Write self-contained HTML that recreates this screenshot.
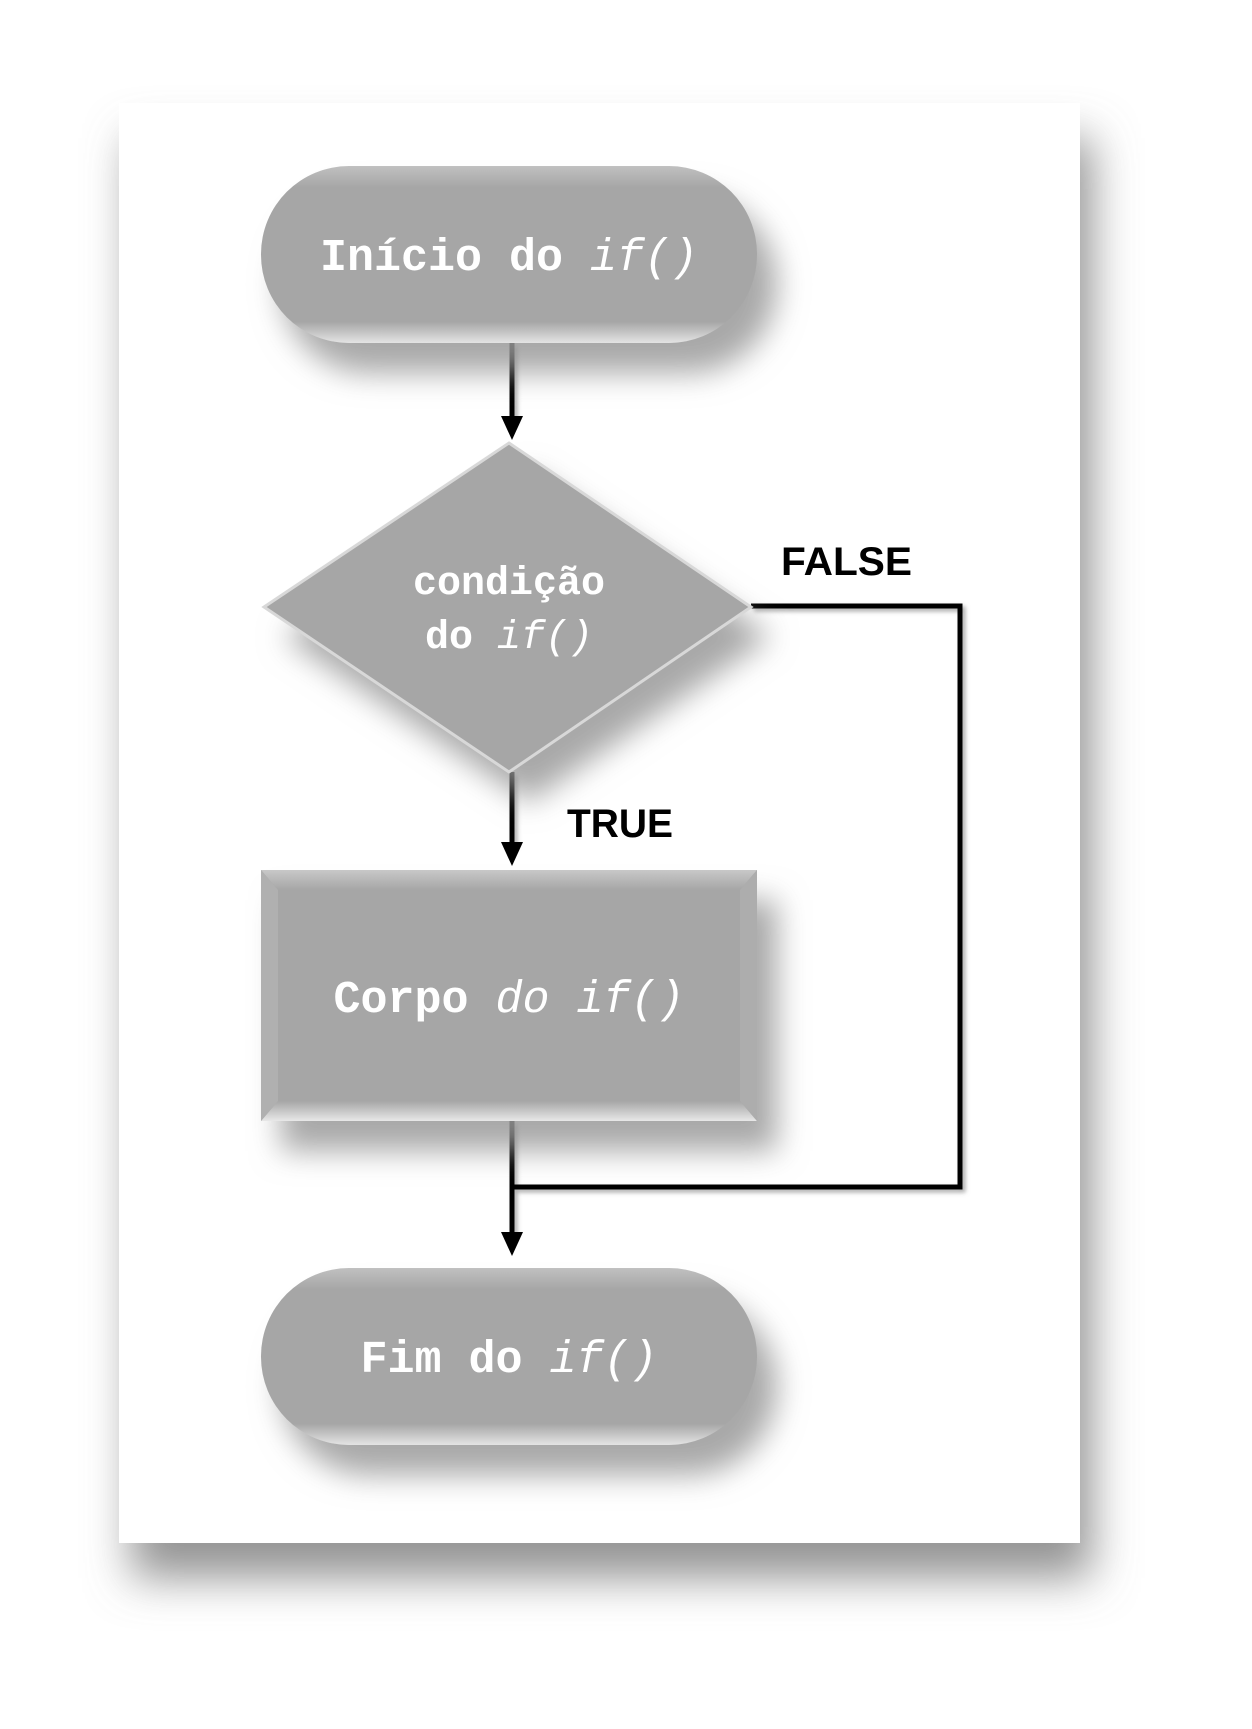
<!DOCTYPE html>
<html><head><meta charset="utf-8"><style>
html,body{margin:0;padding:0;background:#fff;}
svg{display:block;}
.t{font-family:"Liberation Mono",monospace;font-weight:bold;fill:#fff;}
.l{font-family:"Liberation Sans",sans-serif;font-weight:bold;fill:#000;}
</style></head><body>
<svg width="1252" height="1729" viewBox="0 0 1252 1729" xmlns="http://www.w3.org/2000/svg">
<defs>
<filter id="cs" x="-20%" y="-20%" width="140%" height="140%">
<feDropShadow dx="12" dy="35" stdDeviation="22" flood-color="#888" flood-opacity="0.9"/>
</filter>
<filter id="ss" x="-20%" y="-20%" width="150%" height="160%">
<feDropShadow dx="20" dy="30" stdDeviation="15" flood-color="#999" flood-opacity="0.85"/>
</filter>
<filter id="ls" x="-20%" y="-20%" width="150%" height="160%">
<feDropShadow dx="3" dy="3" stdDeviation="2" flood-color="#777" flood-opacity="0.6"/>
</filter>
<linearGradient id="edge" x1="0" y1="0" x2="0" y2="1">
<stop offset="0" stop-color="#c0c0c0"/><stop offset="0.12" stop-color="#a6a6a6"/>
<stop offset="0.88" stop-color="#a6a6a6"/><stop offset="1" stop-color="#e4e4e4"/>
</linearGradient>
<linearGradient id="tb" x1="0" y1="0" x2="0" y2="1">
<stop offset="0" stop-color="#c8c8c8"/><stop offset="1" stop-color="#a6a6a6"/>
</linearGradient>
<linearGradient id="bb" x1="0" y1="0" x2="0" y2="1">
<stop offset="0" stop-color="#a6a6a6"/><stop offset="1" stop-color="#e8e8e8"/>
</linearGradient>
</defs>
<rect x="119" y="103" width="961" height="1440" fill="#fff" filter="url(#cs)"/>

<g filter="url(#ls)" stroke="#000" stroke-width="5" fill="none">
<line x1="512" y1="343" x2="512" y2="420"/>
<line x1="512" y1="772" x2="512" y2="845"/>
<line x1="512" y1="1121" x2="512" y2="1235"/>
<polyline points="751,606 960,606 960,1187 512,1187"/>
</g>
<g fill="#000">
<polygon points="501,416 523,416 512,440"/>
<polygon points="501,842 523,842 512,866"/>
<polygon points="501,1232 523,1232 512,1256"/>
</g>

<rect x="261" y="166" width="496" height="177" rx="88" fill="url(#edge)" filter="url(#ss)"/>
<text class="t" x="509" y="270" font-size="45" text-anchor="middle">Início do <tspan font-style="italic" font-weight="normal">if()</tspan></text>

<polygon points="509,443 751,607 509,772 264,607" fill="#a6a6a6" filter="url(#ss)"/>
<polygon points="509,443 751,607 509,772 264,607" fill="none" stroke="#d8d8d8" stroke-width="3"/>
<text class="t" x="509" y="594" font-size="40" text-anchor="middle">condição</text>
<text class="t" x="509" y="648" font-size="40" text-anchor="middle">do <tspan font-style="italic" font-weight="normal">if()</tspan></text>

<rect x="261" y="870" width="496" height="251" fill="#a6a6a6" filter="url(#ss)"/>
<polygon points="261,870 757,870 740,890 278,890" fill="url(#tb)"/>
<polygon points="261,1121 757,1121 740,1101 278,1101" fill="url(#bb)"/>
<polygon points="261,870 278,890 278,1101 261,1121" fill="#b0b0b0"/>
<polygon points="757,870 740,890 740,1101 757,1121" fill="#adadad"/>
<text class="t" x="509" y="1012" font-size="45" text-anchor="middle">Corpo <tspan font-style="italic" font-weight="normal">do if()</tspan></text>

<rect x="261" y="1268" width="496" height="177" rx="88" fill="url(#edge)" filter="url(#ss)"/>
<text class="t" x="509" y="1372" font-size="45" text-anchor="middle">Fim do <tspan font-style="italic" font-weight="normal">if()</tspan></text>

<text class="l" x="781" y="575" font-size="40" textLength="131" lengthAdjust="spacingAndGlyphs">FALSE</text>
<text class="l" x="567" y="837" font-size="40" textLength="106" lengthAdjust="spacingAndGlyphs">TRUE</text>
</svg>
</body></html>
